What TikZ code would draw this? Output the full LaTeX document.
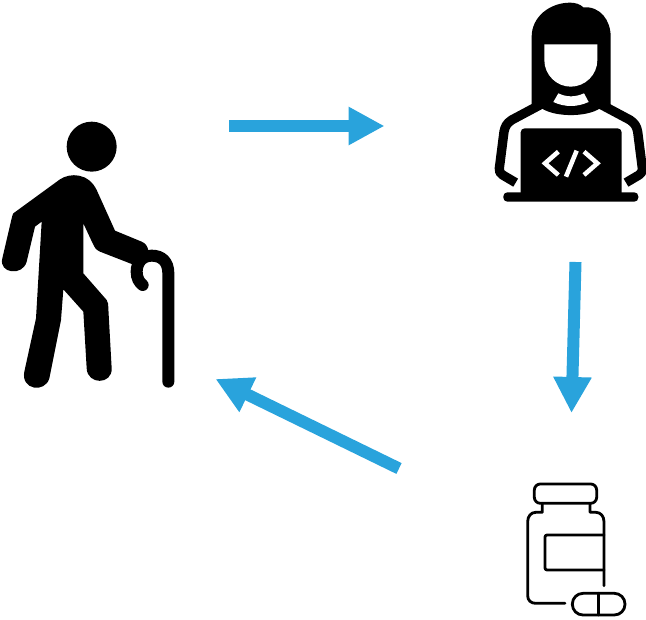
\documentclass[tikz,border=0pt]{standalone}
\usetikzlibrary{arrows.meta}
\definecolor{flowblue}{HTML}{29A3DC}
\tikzset{
  flow/.style={flowblue,line width=9pt,-{Triangle[length=27pt,width=27pt]}},
  zoomed/.style={x=0.25pt,y=-0.25pt},
  fillblack/.style={fill=black,draw=none},
  bottleline/.style={draw=black,line width=2.1pt,line cap=round,line join=round},
  codeline/.style={draw=white,line width=3.4pt},
  shoulder/.style={draw=black,line width=7pt,line join=round}
}
\begin{document}
\begin{tikzpicture}[x=0.75pt,y=-0.75pt]
\useasboundingbox (0,0) rectangle (646,620);
% arrow ends
\coordinate (a1s) at (229,126); \coordinate (a1e) at (384.5,126);
\coordinate (a2s) at (575.5,262); \coordinate (a2e) at (571.5,413);
\coordinate (a3s) at (399,468.5); \coordinate (a3e) at (215.5,379);
\draw[flow] (a1s) -- (a1e);
\draw[flow] (a2s) -- (a2e);
\draw[flow] (a3s) -- (a3e);
% patient
\begin{scope}[shift={(0,110)},zoomed]
  \fill[black] (275,110) circle (75);
  \draw[black,line width=9pt,line cap=round] (505,815) -- (505,490) .. controls (505,455) and (485,437) .. (455,437) .. controls (425,437) and (410,460) .. (410,485) .. controls (410,505) and (418,517) .. (428,525);
  \path[fillblack] (40,310) -- (180,208) .. controls (210,188) and (265,188) .. (290,240)
    -- (345,362) -- (425,395) .. controls (450,405) and (452,440) .. (425,452) -- (395,462)
    -- (300,425) .. controls (285,418) and (283,410) .. (278,400) -- (250,340) -- (250,490) -- (320,570) .. controls (325,577) and (325,585) .. (325,595)
    -- (335,775) .. controls (337,825) and (262,825) .. (260,775) -- (250,605) -- (190,538) -- (183,630)
    -- (148,805) .. controls (135,850) and (62,840) .. (73,785) -- (108,625) -- (125,335) -- (105,350)
    -- (80,455) .. controls (68,500) and (-5,490) .. (7,445) -- (35,325) .. controls (37,318) and (38,313) .. (40,310) -- cycle;
\end{scope}
% developer
\begin{scope}[shift={(480,0)},zoomed]
  \draw[shoulder] (185,312) -- (95,360) .. controls (80,370) and (75,380) .. (72,395) -- (58,505) .. controls (57,515) and (60,520) .. (68,525) -- (107,548);
  \draw[shoulder] (360,312) -- (450,360) .. controls (465,370) and (470,380) .. (473,395) -- (487,505) .. controls (488,515) and (485,520) .. (477,525) -- (438,548);
  \path[fillblack] (155,315) -- (155,110) .. controls (155,50) and (210,8) .. (270,8) .. controls (285,8) and (300,12) .. (310,22) .. controls (360,18) and (392,60) .. (392,110) -- (392,315) -- (360,325) .. controls (320,352) and (225,352) .. (185,325) -- cycle;
  \path[fill=white] (193,133) -- (352,133) -- (352,180) .. controls (352,225) and (315,260) .. (272,260) .. controls (230,260) and (193,225) .. (193,180) -- cycle;
  \path[fill=white] (235,280) .. controls (260,292) and (285,292) .. (312,280) -- (326,306) .. controls (290,322) and (255,322) .. (220,306) -- cycle;
  \path[fillblack,rounded corners=3pt] (122,385) rectangle (425,590);
  \path[fillblack,rounded corners=3pt] (70,577) rectangle (475,605);
  \draw[codeline] (235,455) -- (195,490) -- (235,525);
  \draw[codeline] (290,452) -- (258,530);
  \draw[codeline] (312,455) -- (352,490) -- (312,525);
\end{scope}
% medicine
\begin{scope}[shift={(515,475)},zoomed]
  \draw[bottleline,rounded corners=4.5pt] (58,27) rectangle (245,85);
  \draw[bottleline] (82,85) -- (82,112) -- (62,112) .. controls (48,112) and (38,124) .. (38,140) -- (38,362) .. controls (38,376) and (48,385) .. (62,385) -- (150,385);
  \draw[bottleline] (225,85) -- (225,112) -- (243,112) .. controls (257,112) and (267,124) .. (267,140) -- (267,332);
  \draw[bottleline,rounded corners=1.5pt] (267,180) -- (90,180) -- (90,285) -- (267,285);
  \draw[bottleline,rounded corners=8pt] (172,355) rectangle (330,420);
  \draw[bottleline] (250,355) -- (250,420);
\end{scope}
\end{tikzpicture}
\end{document}
